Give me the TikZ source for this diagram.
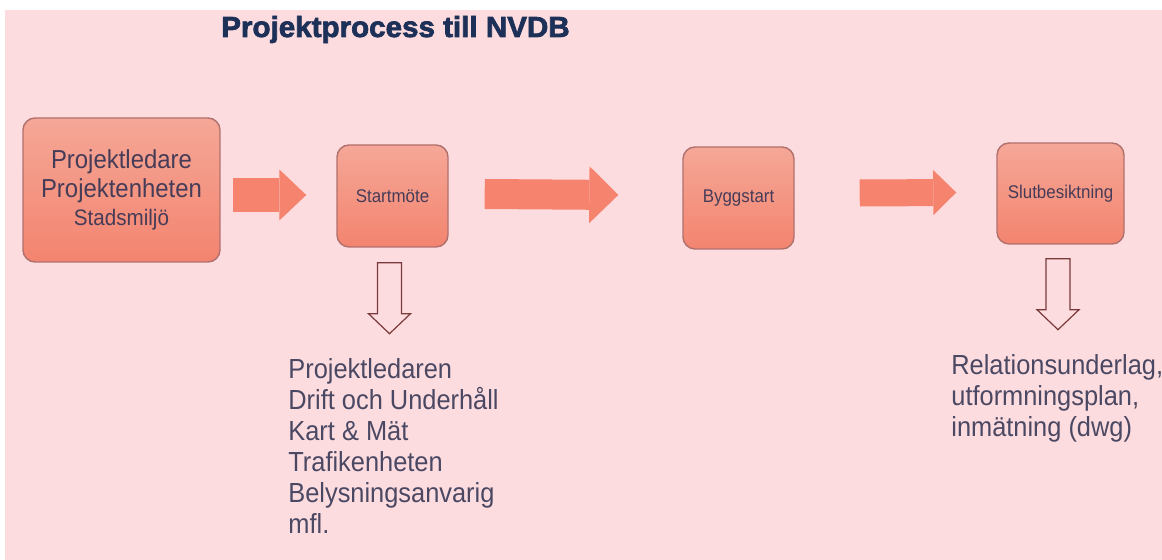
\documentclass[tikz,border=0pt]{standalone}
\usepackage{fontspec}
\setmainfont{Liberation Sans}[FakeStretch=0.92]
\newfontfamily\titlefont{Liberation Sans}[FakeBold=2.4,FakeStretch=1.02]
\usetikzlibrary{arrows.meta,calc}
\definecolor{bgpink}{HTML}{FDDCE0}
\definecolor{titleblue}{HTML}{1C3058}
\definecolor{boxtext}{HTML}{463C58}
\definecolor{boxtop}{HTML}{F5A797}
\definecolor{boxbottom}{HTML}{F3846F}
\definecolor{boxline}{HTML}{B0706C}
\definecolor{arrowfill}{HTML}{F5836D}
\definecolor{hollowline}{HTML}{7A3A3A}
\definecolor{listtext}{HTML}{4A4862}
\begin{document}
\begin{tikzpicture}[x=0.5pt,y=-0.5pt,
  stepbox/.style={draw=boxline,line width=0.7pt,rounded corners=6pt,top color=boxtop,bottom color=boxbottom,
    text=boxtext,align=center,inner sep=0pt,font=\fontsize{9.2}{11}\selectfont},
  flowarrow/.style n args={3}{draw=arrowfill,line width=#1,-{Triangle[length=#2,width=#3,line width=0pt,fill=arrowfill]}},
  listnode/.style={anchor=north west,inner sep=0pt,align=left,text=listtext,font=\fontsize{13.8}{15.5}\selectfont},
  pics/hollowdown/.style={code={
    \draw[hollowline,line width=0.6pt,fill=bgpink] (-12,0) -- (-12,51) -- (-21,51) -- (0,71) -- (21,51) -- (12,51) -- (12,0) -- cycle;}}]
\useasboundingbox (0,0) rectangle (1162,560);
\fill[bgpink] (5,10) rectangle (1162,560);
\node[anchor=base,text=titleblue,font=\titlefont\bfseries\fontsize{14.5}{16}\selectfont] (title) at (395.5,37) {Projektprocess till NVDB};
\node[stepbox,minimum width=98.5pt,minimum height=72pt,font=\fontsize{13}{14.3}\selectfont] (lead) at (121.5,190)
  {Projektledare\\Projektenheten\\\fontsize{11.2}{14.3}\selectfont Stadsmiljö};
\node[stepbox,minimum width=55.5pt,minimum height=51pt] (startm) at (392.5,196) {Startmöte};
\node[stepbox,minimum width=55.5pt,minimum height=51pt] (bygg) at (738.5,198) {Byggstart};
\node[stepbox,minimum width=63.5pt,minimum height=50.5pt] (slut) at (1060.5,193.5) {Slutbesiktning};
\draw[flowarrow={17pt}{13.5pt}{25.5pt}] ($(lead.east)+(12,5)$) -- ($(startm.west)+(-30,-1)$);
\draw[flowarrow={15pt}{14.5pt}{28.5pt}] ($(startm.east)+(36,-2)$) -- ($(bygg.west)+(-64,-3)$);
\draw[flowarrow={13.5pt}{11.5pt}{22.5pt}] ($(bygg.east)+(65,-5)$) -- ($(slut.west)+(-40,-1)$);
\pic at ($(startm.south)+(-3,15)$) {hollowdown};
\pic at ($(slut.south)+(-2.5,14)$) {hollowdown};
\node[listnode] (deltagare) at (288,358)
  {Projektledaren\\Drift och Underhåll\\Kart \& Mät\\Trafikenheten\\Belysningsanvarig\\mfl.};
\node[listnode] (leverans) at (951,354)
  {Relationsunderlag,\\utformningsplan,\\inmätning (dwg)};
\end{tikzpicture}
\end{document}
